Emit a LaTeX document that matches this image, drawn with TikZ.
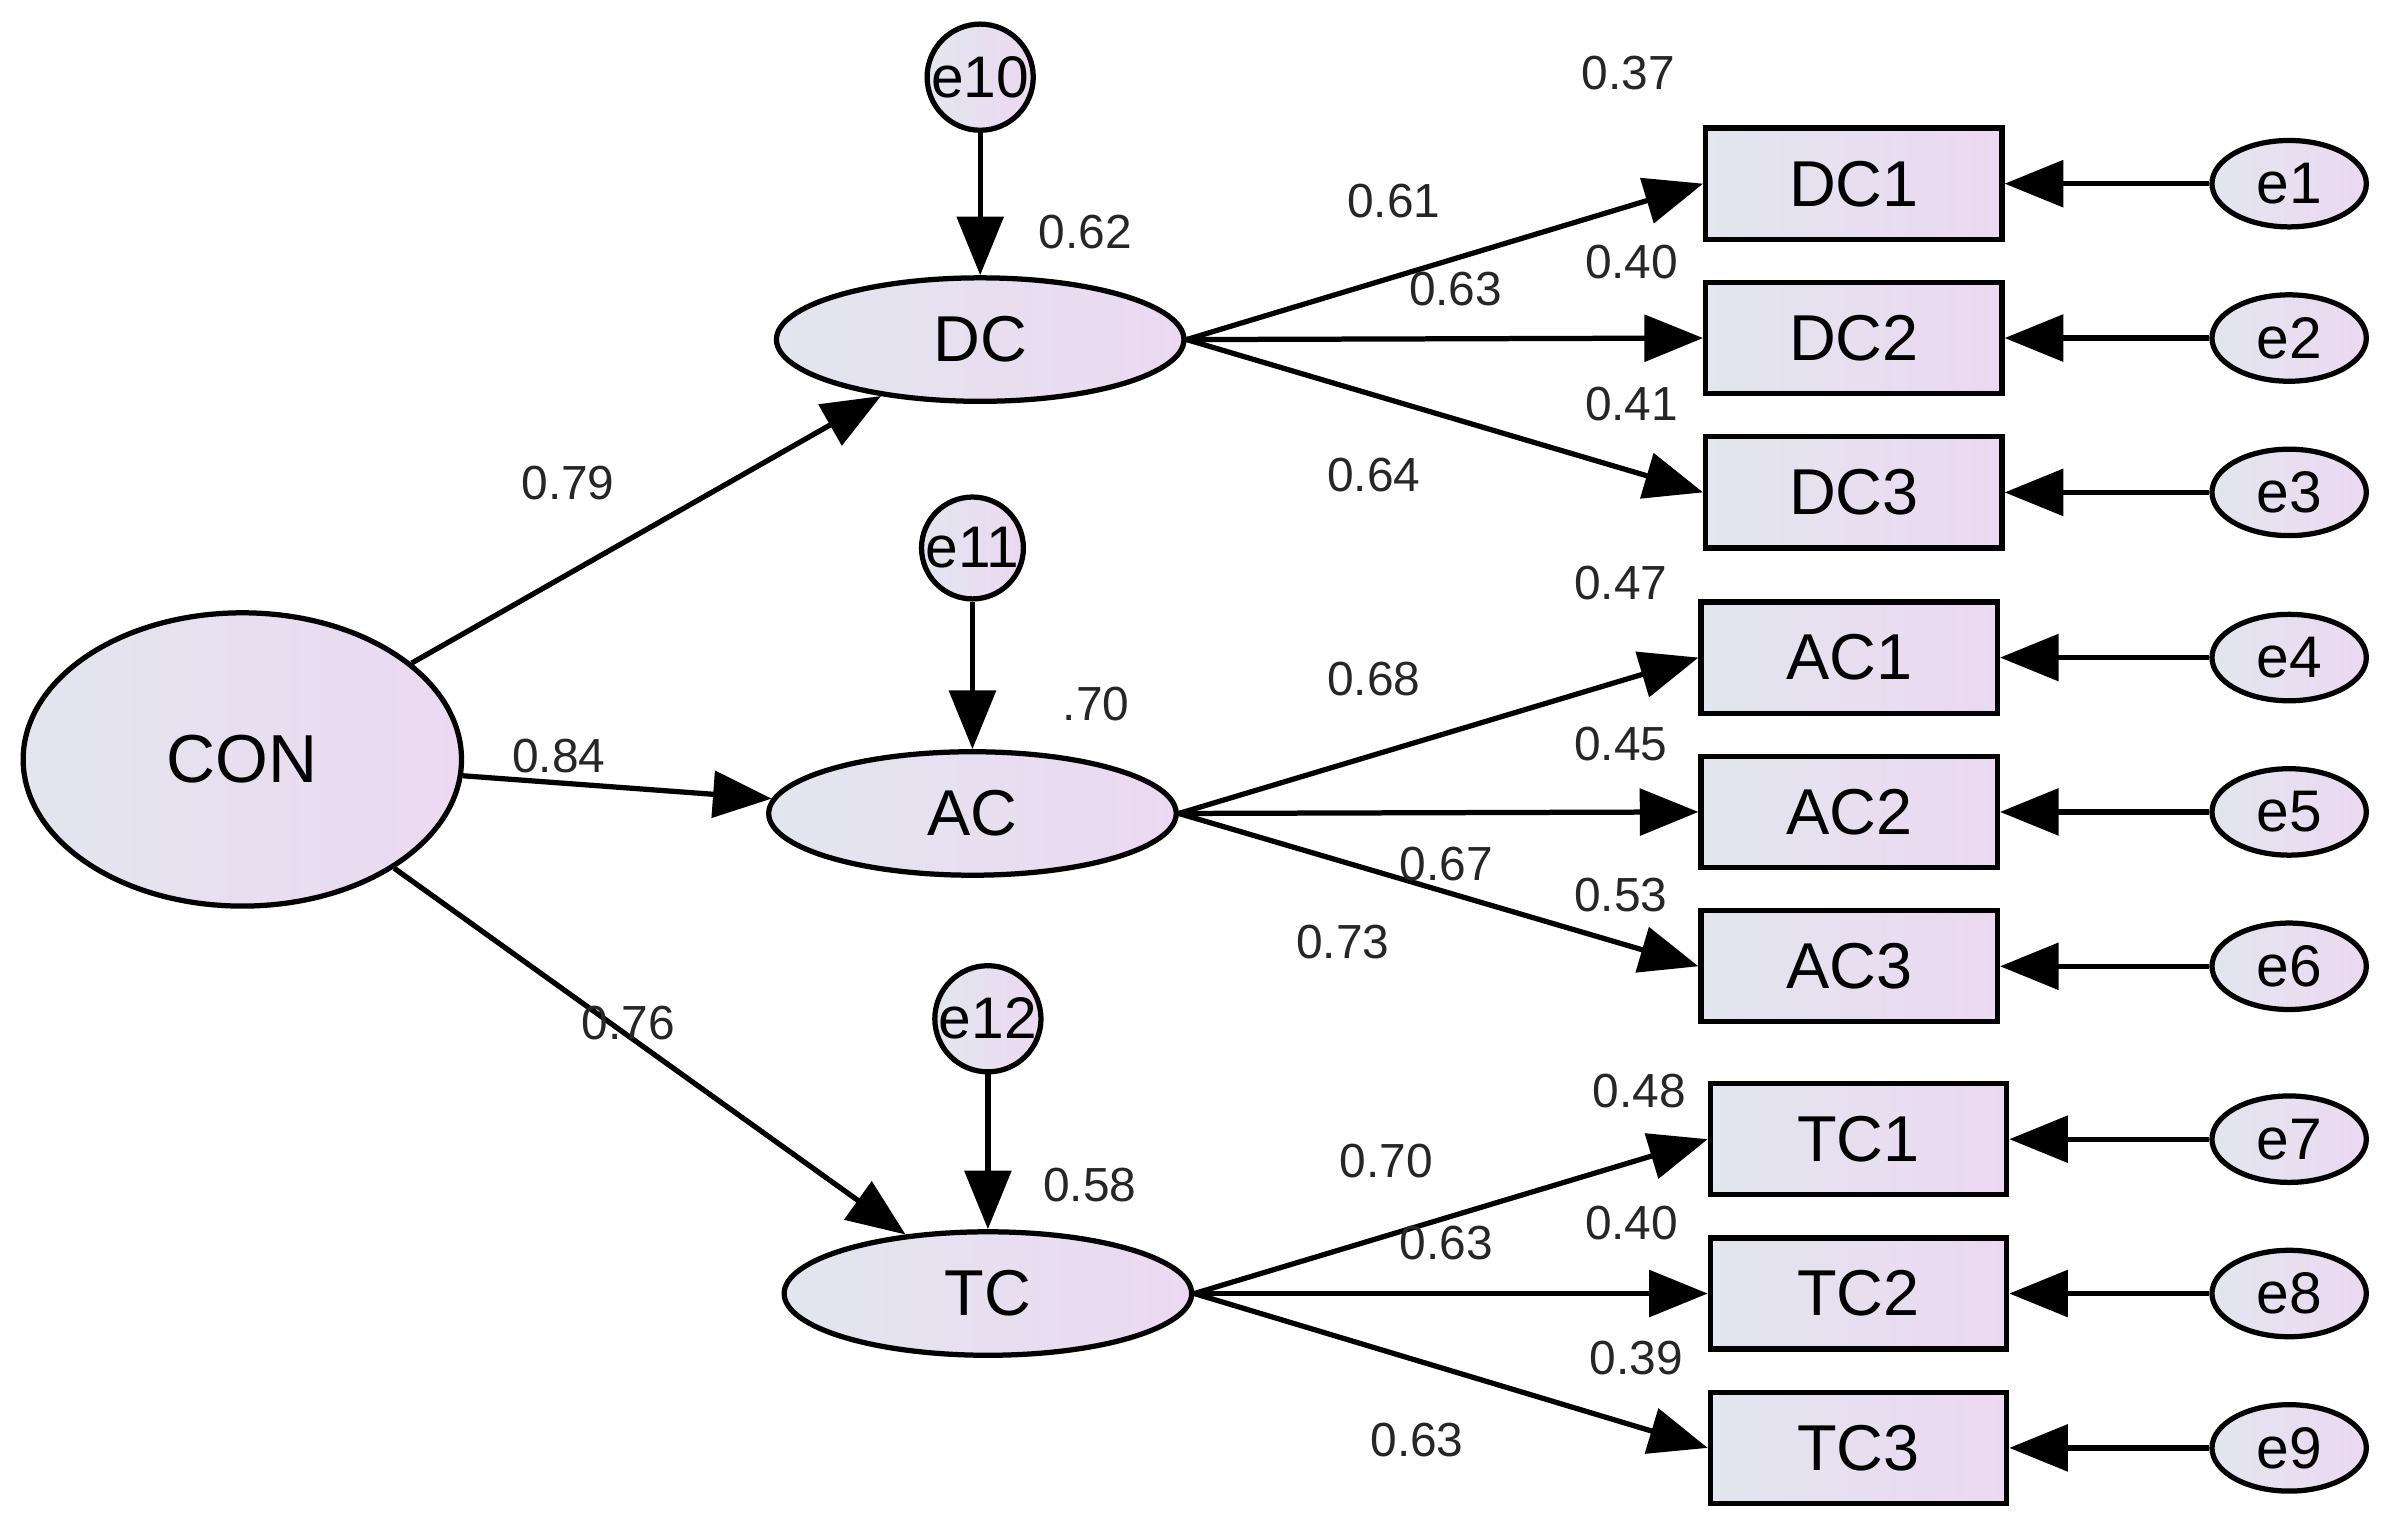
\documentclass[tikz,border=0pt]{standalone}
\usepackage{fontspec}
\setmainfont{Liberation Sans}
\usetikzlibrary{arrows.meta,shapes.geometric}
\definecolor{cA}{HTML}{E2E6EE}
\definecolor{cB}{HTML}{ECD8F2}
\begin{document}
\begin{tikzpicture}[x=1pt,y=-1pt,
 sh/.style={draw=black,line width=3.4pt,left color=cA,right color=cB,inner sep=0pt},
 lat/.style={sh,ellipse,minimum width=264pt,minimum height=80pt,font=\fontsize{42}{42}\selectfont},
 err/.style={sh,ellipse,minimum width=100pt,minimum height=56pt,font=\fontsize{38}{38}\selectfont},
 dis/.style={sh,circle,minimum size=56pt,font=\fontsize{38}{38}\selectfont},
 box/.style={sh,rectangle,minimum width=192pt,minimum height=72pt,font=\fontsize{42}{42}\selectfont},
 arr/.style={line width=3.4pt,-{Triangle[length=38pt,width=30pt]}},
 lb/.style={font=\fontsize{31}{31}\selectfont,text=black!85}]
\useasboundingbox (0,0) rectangle (1560,992);
\node[sh,ellipse,minimum width=284pt,minimum height=190pt,font=\fontsize{44}{44}\selectfont] (CON) at (157,492) {CON};
\node[lat] (DC) at (635,220) {DC};
\node[lat] (AC) at (630,527) {AC};
\node[lat] (TC) at (640,838) {TC};
\node[dis] (e10) at (635,50) {e10};
\node[dis] (e11) at (630,355) {e11};
\node[dis] (e12) at (640,660) {e12};
\foreach \n/\x/\y in {DC1/1201/119,DC2/1201/219,DC3/1201/319,AC1/1198/426,AC2/1198/526,AC3/1198/626,TC1/1204/738,TC2/1204/838,TC3/1204/938}
  \node[box] (\n) at (\x,\y) {\n};
\foreach \e/\b/\y in {e1/DC1/119,e2/DC2/219,e3/DC3/319,e4/AC1/426,e5/AC2/526,e6/AC3/626,e7/TC1/738,e8/TC2/838,e9/TC3/938}{
  \node[err] (\e) at (1483,\y) {\e};
  \draw[arr] (\e) -- (\b);}
\draw[arr] (CON) -- (DC);
\draw[arr] (CON) -- (AC);
\draw[arr] (CON) -- (TC);
\draw[arr] (e10) -- (DC);
\draw[arr] (e11) -- (AC);
\draw[arr] (e12) -- (TC);
\foreach \l in {DC,AC,TC}{
  \draw[arr] (\l.east) -- (\l1.west);
  \draw[arr] (\l.east) -- (\l2.west);
  \draw[arr] (\l.east) -- (\l3.west);}
\foreach \t/\x/\y in {0.37/1055/47,0.61/903/130,0.62/703/150,0.40/1057/170,0.63/943/187,0.41/1057/262,0.64/890/308,0.79/368/313,0.47/1050/378,0.68/890/440,.70/710/456,0.84/362/490,0.45/1050/482,0.67/937/560,0.53/1050/580,0.73/870/610,0.76/407/663,0.48/1062/707,0.70/898/752,0.58/706/768,0.40/1057/792,0.63/937/805,0.39/1060/880,0.63/918/933}
  \node[lb] at (\x,\y) {\t};
\end{tikzpicture}
\end{document}
